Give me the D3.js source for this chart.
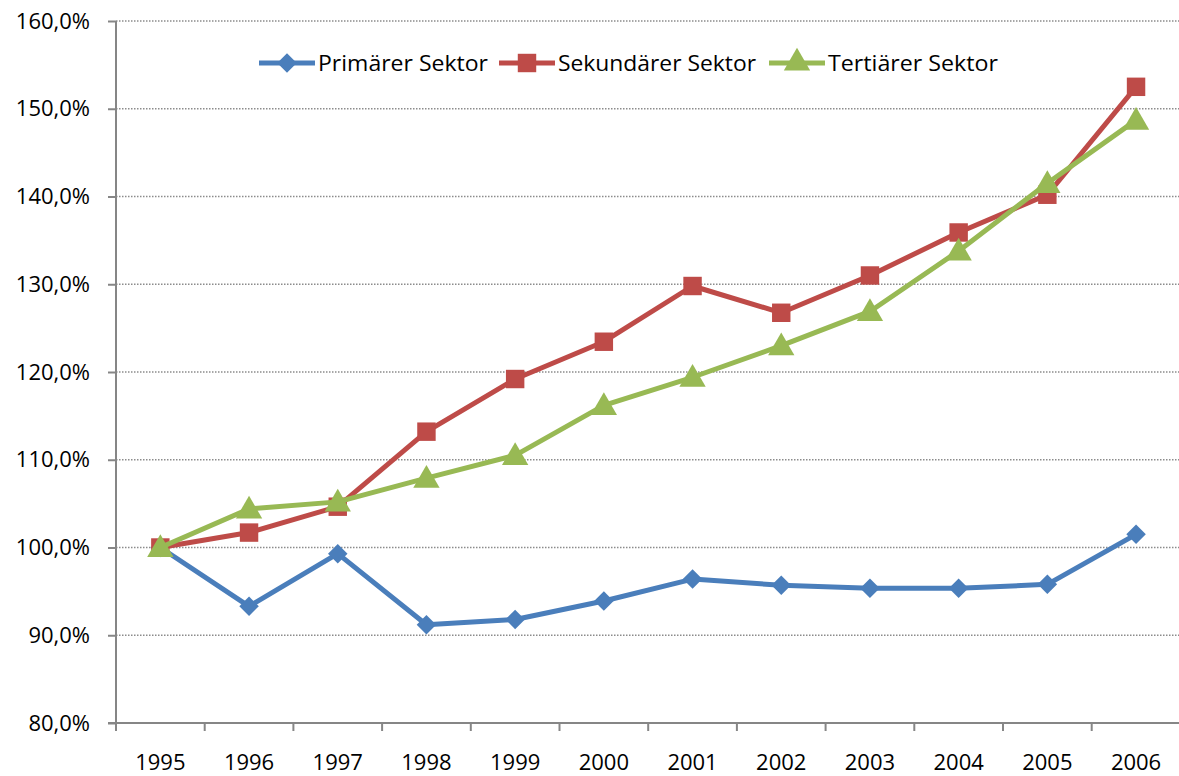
<!DOCTYPE html>
<html>
<head>
<meta charset="utf-8">
<script src="https://cdn.jsdelivr.net/npm/d3@7"></script>
<style>
body { margin:0; background:#fff; }
text { font-family: "Open Sans", "Noto Sans", sans-serif; fill:#000; }
</style>
</head>
<body>
<svg id="graph"></svg>
<script>
var years = ["1995","1996","1997","1998","1999","2000","2001","2002","2003","2004","2005","2006"]
var primaer = [100.0, 93.3, 99.3, 91.2, 91.8, 93.9, 96.4, 95.7, 95.35, 95.35, 95.8, 101.5]
var sekundaer = [100.0, 101.7, 104.65, 113.2, 119.2, 123.45, 129.8, 126.75, 131.0, 135.9, 140.2, 152.5]
var tertiaer = [100.0, 104.4, 105.2, 107.9, 110.5, 116.2, 119.4, 123.0, 126.9, 133.8, 141.5, 148.7]
var yTicks = [80, 90, 100, 110, 120, 130, 140, 150, 160]
var seriesNames = ["Primärer Sektor", "Sekundärer Sektor", "Tertiärer Sektor"]

var screen = {width:1179, height:776}
var margin = {left:116, top:21, right:1180.4, bottom:723}

var svg = d3.select("#graph")
    .attr("width", screen.width)
    .attr("height", screen.height)

var xscale = d3.scaleBand()
    .domain(years)
    .range([margin.left, margin.right])

var yscale = d3.scaleLinear()
    .domain([80, 160])
    .range([margin.bottom, margin.top])

var fmt = function(v) { return v.toFixed(1).replace(".", ",") + "%" }

// gridlines
svg.append("g")
    .selectAll("line")
    .data(yTicks.slice(1))
    .enter()
    .append("line")
    .attr("x1", margin.left)
    .attr("x2", screen.width)
    .attr("y1", function(d) { return yscale(d) })
    .attr("y2", function(d) { return yscale(d) })
    .attr("stroke", "#8c8c8c")
    .attr("stroke-width", 1.3)
    .attr("stroke-dasharray", "1.5,1.5")

// y axis
var yAxis = d3.axisLeft(yscale)
    .tickValues(yTicks)
    .tickFormat(fmt)
    .tickSize(8)
    .tickPadding(18)

var gy = svg.append("g")
    .attr("transform", "translate(" + margin.left + ",0)")
    .call(yAxis)
gy.select(".domain").attr("stroke", "#868686").attr("stroke-width", 2).attr("d", "M0," + margin.top + "V" + margin.bottom)
gy.selectAll(".tick line").attr("stroke", "#868686").attr("stroke-width", 2)
gy.selectAll("text").style("font-size", "22px").attr("fill", "#000")

// x axis
svg.append("line")
    .attr("x1", margin.left - 8)
    .attr("x2", screen.width)
    .attr("y1", margin.bottom)
    .attr("y2", margin.bottom)
    .attr("stroke", "#868686")
    .attr("stroke-width", 2)

svg.append("g")
    .selectAll("line")
    .data(years)
    .enter()
    .append("line")
    .attr("x1", function(d) { return xscale(d) })
    .attr("x2", function(d) { return xscale(d) })
    .attr("y1", margin.bottom)
    .attr("y2", margin.bottom + 8)
    .attr("stroke", "#868686")
    .attr("stroke-width", 2)

svg.append("g")
    .selectAll("text")
    .data(years)
    .enter()
    .append("text")
    .attr("x", function(d) { return xscale(d) + xscale.bandwidth() / 2 })
    .attr("y", 770)
    .attr("text-anchor", "middle")
    .style("font-size", "22px")
    .text(function(d) { return d })

// series
var diamond = {
    draw: function(ctx, size) {
        var r = Math.sqrt(size) / 2 * Math.SQRT2
        ctx.moveTo(0, -r); ctx.lineTo(r, 0); ctx.lineTo(0, r); ctx.lineTo(-r, 0); ctx.closePath()
    }
}

var series = [
    {name:seriesNames[0], values:primaer, color:"#4a7ebb", symbol:diamond, size:190},
    {name:seriesNames[1], values:sekundaer, color:"#be4b48", symbol:d3.symbolSquare, size:340},
    {name:seriesNames[2], values:tertiaer, color:"#98b954", symbol:d3.symbolTriangle, size:300}
]

var line = d3.line()
    .x(function(d, i) { return xscale(years[i]) + xscale.bandwidth() / 2 })
    .y(function(d) { return yscale(d) })

var drawSymbol = function(sel, s) {
    sel.attr("d", d3.symbol().type(s.symbol).size(s.size))
        .attr("fill", s.color)
}

series.forEach(function(s) {
    svg.append("path")
        .datum(s.values)
        .attr("d", line)
        .attr("fill", "none")
        .attr("stroke", s.color)
        .attr("stroke-width", 5)
        .attr("stroke-linejoin", "round")

    svg.append("g")
        .selectAll("path")
        .data(s.values)
        .enter()
        .append("path")
        .attr("transform", function(d, i) {
            var dy = s.symbol == d3.symbolTriangle ? 2 : 0
            return "translate(" + (xscale(years[i]) + xscale.bandwidth() / 2) + "," + (yscale(d) + dy) + ")"
        })
        .call(drawSymbol, s)
})

// legend
var legendPos = [259, 499, 769]
var legend = svg.append("g")
    .selectAll("g")
    .data(series)
    .enter()
    .append("g")
    .attr("transform", function(d, i) { return "translate(" + legendPos[i] + ",63)" })

legend.append("line")
    .attr("x1", 0).attr("x2", 56)
    .attr("y1", 0).attr("y2", 0)
    .attr("stroke", function(d) { return d.color })
    .attr("stroke-width", 5)

legend.append("path")
    .attr("transform", "translate(28,0)")
    .each(function(d) { d3.select(this).call(drawSymbol, d) })

legend.append("text")
    .attr("x", 59)
    .attr("y", 8)
    .style("font-size", "22px")
    .attr("textLength", function(d, i) { return [170, 198, 170][i] })
    .attr("lengthAdjust", "spacingAndGlyphs")
    .text(function(d) { return d.name })
</script>
</body>
</html>
